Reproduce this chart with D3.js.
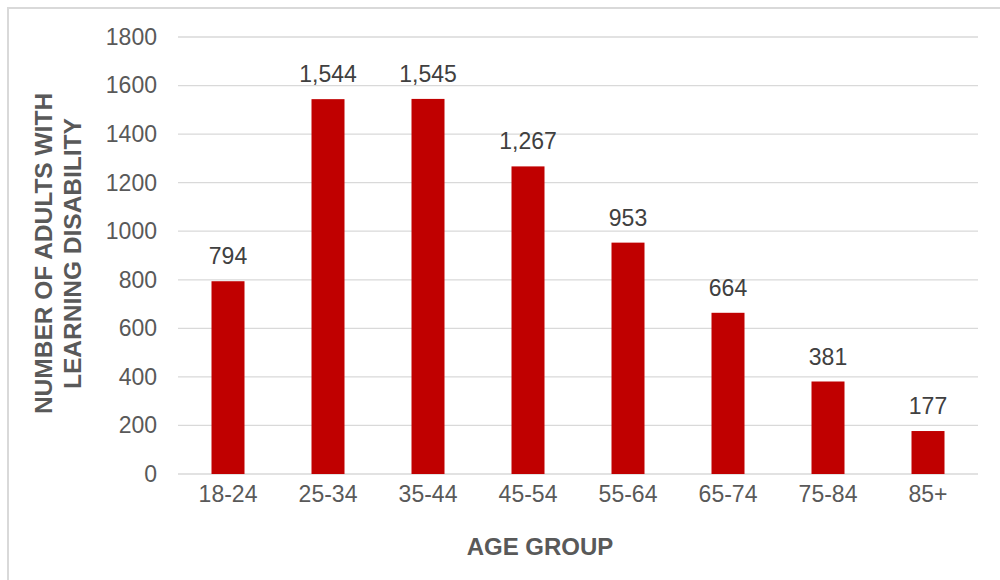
<!DOCTYPE html>
<html>
<head>
<meta charset="utf-8">
<script src="https://cdn.jsdelivr.net/npm/d3@7"></script>
<style>
  html, body { margin: 0; padding: 0; background: #fff; }
  svg { display: block; font-family: "Liberation Sans", Arial, sans-serif; }
</style>
</head>
<body>
<svg id="chart"></svg>
<script>
const categories = ["18-24", "25-34", "35-44", "45-54", "55-64", "65-74", "75-84", "85+"];
const values = [794, 1544, 1545, 1267, 953, 664, 381, 177];
const yTicks = [0, 200, 400, 600, 800, 1000, 1200, 1400, 1600, 1800];
const xTitle = "AGE GROUP";
const yTitleLines = ["NUMBER OF ADULTS WITH", "LEARNING DISABILITY"];

const width = 1000, height = 580;
const margin = { top: 37, bottom: 106, left: 178, right: 22 };

const svg = d3.select("#chart")
  .attr("width", width)
  .attr("height", height)
  .attr("viewBox", [0, 0, width, height]);

// outer frame (only top and left edges are visible in the picture)
svg.append("rect")
  .attr("x", 8).attr("y", 8)
  .attr("width", width + 20).attr("height", height + 20)
  .attr("fill", "none")
  .attr("stroke", "#d9d9d9")
  .attr("stroke-width", 2);

const X = d3.scaleBand()
  .domain(categories)
  .range([margin.left, width - margin.right])
  .paddingInner(0.67)
  .paddingOuter(0.335);

const Y = d3.scaleLinear()
  .domain([0, 1800])
  .range([height - margin.bottom, margin.top]);

// gridlines
const grid = svg.append("g").attr("class", "grid");
grid.selectAll("line")
  .data(yTicks)
  .join("line")
  .attr("x1", margin.left)
  .attr("x2", width - margin.right)
  .attr("y1", d => Y(d))
  .attr("y2", d => Y(d))
  .attr("stroke", "#d9d9d9")
  .attr("stroke-width", 1.3);

// y axis labels
const yAxis = d3.axisLeft(Y)
  .tickValues(yTicks)
  .tickFormat(d3.format("d"))
  .tickSize(0)
  .tickPadding(21);

svg.append("g")
  .attr("transform", `translate(${margin.left},0)`)
  .call(yAxis)
  .call(g => g.select(".domain").remove())
  .selectAll("text")
  .attr("font-size", 23)
  .attr("font-family", "Liberation Sans, Arial, sans-serif")
  .attr("fill", "#595959");

// x axis labels
const xAxis = d3.axisBottom(X)
  .tickSize(0)
  .tickPadding(12);

svg.append("g")
  .attr("transform", `translate(0,${Y(0)})`)
  .call(xAxis)
  .call(g => g.select(".domain").remove())
  .selectAll("text")
  .attr("font-size", 23)
  .attr("font-family", "Liberation Sans, Arial, sans-serif")
  .attr("fill", "#595959");

// bars
const data = categories.map((c, i) => ({ cat: c, v: values[i] }));

svg.append("g")
  .selectAll("rect")
  .data(data)
  .join("rect")
  .attr("x", d => X(d.cat))
  .attr("y", d => Y(d.v))
  .attr("width", X.bandwidth())
  .attr("height", d => Y(0) - Y(d.v))
  .attr("fill", "#c00000");

// value labels
svg.append("g")
  .selectAll("text")
  .data(data)
  .join("text")
  .attr("x", d => X(d.cat) + X.bandwidth() / 2)
  .attr("y", d => Y(d.v) - 17)
  .attr("text-anchor", "middle")
  .attr("font-size", 23)
  .attr("fill", "#404040")
  .text(d => d3.format(",")(d.v));

// x title (sits a little left of the plot centre in the original)
svg.append("text")
  .attr("x", 540)
  .attr("y", 555)
  .attr("text-anchor", "middle")
  .attr("font-size", 24)
  .attr("font-weight", "bold")
  .attr("fill", "#595959")
  .text(xTitle);

// y title, two lines
const yMid = (Y(0) + Y(1800)) / 2 - 2;
const yTitle = svg.append("text")
  .attr("transform", `translate(52,${yMid}) rotate(-90)`)
  .attr("text-anchor", "middle")
  .attr("font-size", 24.5)
  .attr("font-weight", "bold")
  .attr("fill", "#595959");

yTitle.selectAll("tspan")
  .data(yTitleLines)
  .join("tspan")
  .attr("x", 0)
  .attr("dy", (d, i) => i === 0 ? 0 : 29)
  .text(d => d);
</script>
</body>
</html>
